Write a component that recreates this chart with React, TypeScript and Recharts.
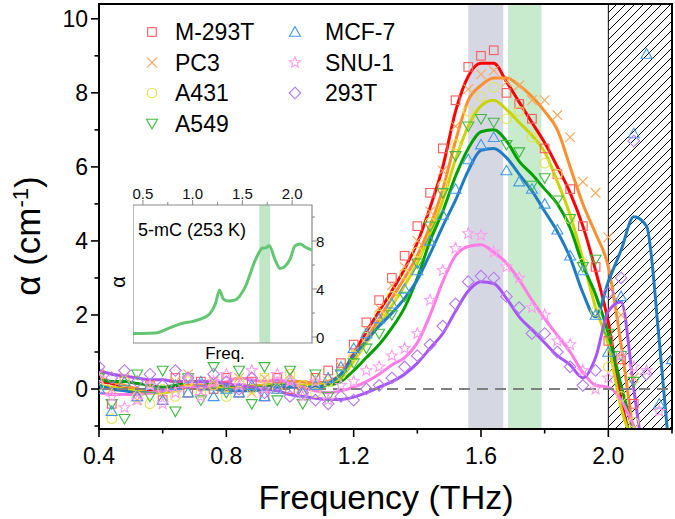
import React from 'react';
import {
  ComposedChart,
  LineChart,
  Line,
  Scatter,
  XAxis,
  YAxis,
  ReferenceArea,
  ReferenceLine,
} from 'recharts';

// frequency grid (THz) shared by all cell lines
const freq = [
  0.4, 0.44, 0.48, 0.52, 0.56, 0.6, 0.64, 0.68, 0.72, 0.76,
  0.8, 0.84, 0.88, 0.92, 0.96, 1.0, 1.04, 1.08, 1.12, 1.16,
  1.2, 1.24, 1.28, 1.32, 1.36, 1.4, 1.44, 1.48, 1.52, 1.56,
  1.6, 1.64, 1.68, 1.72, 1.76, 1.8, 1.84, 1.88, 1.92, 1.96,
  2.0, 2.04, 2.08, 2.12, 2.16, 2.2,
];

// smoothed curves
const m293tFit = [
  0.2, 0.15, 0.05, 0.0, -0.05, -0.05, 0.05, 0.1, 0.1, 0.1,
  0.05, 0.05, 0.05, 0.1, 0.1, 0.1, 0.1, 0.15, 0.2, 0.4,
  0.95, 1.55, 2.1, 2.65, 3.25, 3.95, 4.9, 6.0, 7.5, 8.45,
  8.8, 8.8, 8.3, 7.75, 7.2, 6.65, 6.0, 5.3, 4.4, 3.2,
  1.8, -0.3, -1.6,
];
const pc3Fit = [
  0.3, 0.2, 0.1, 0.0, -0.1, -0.1, 0.0, 0.1, 0.1, 0.05,
  0.05, 0.05, 0.1, 0.1, 0.15, 0.2, 0.2, 0.15, 0.2, 0.35,
  0.8, 1.35, 1.9, 2.45, 3.0, 3.6, 4.4, 5.4, 6.7, 7.8,
  8.2, 8.4, 8.4, 8.2, 7.9, 7.5, 7.0, 6.0, 5.0, 4.2,
  3.3, 1.2, -1.3,
];
const a431Fit = [
  0.1, 0.05, 0.0, -0.05, -0.1, -0.1, -0.05, 0.05, 0.05, 0.05,
  0.0, 0.0, 0.05, 0.1, 0.15, 0.1, 0.1, 0.1, 0.15, 0.3,
  0.75, 1.25, 1.75, 2.25, 2.8, 3.4, 4.2, 5.1, 6.2, 7.1,
  7.65, 7.8, 7.55, 7.2, 6.85, 6.4, 5.6, 4.7, 3.5, 2.2,
  1.2, -0.5, -1.5,
];
const a549Fit = [
  0.25, 0.2, 0.2, 0.15, 0.1, 0.05, 0.1, 0.2, 0.2, 0.15,
  0.1, 0.1, 0.05, 0.05, 0.1, 0.1, 0.05, 0.05, 0.1, 0.2,
  0.5, 0.85, 1.2, 1.65, 2.2, 3.0, 4.0, 4.8, 5.75, 6.5,
  6.95, 7.0, 6.7, 6.15, 5.8, 5.4, 5.0, 4.35, 3.35, 2.55,
  1.5, 0.1, -1.2,
];
const mcf7Fit = [
  0.1, 0.0, -0.05, -0.1, -0.1, -0.05, 0.0, 0.05, 0.0, 0.0,
  -0.05, -0.05, -0.05, 0.0, 0.05, 0.05, 0.05, 0.05, 0.15, 0.4,
  0.9, 1.3, 1.7, 2.05, 2.45, 2.95, 3.65, 4.4, 5.1, 5.9,
  6.45, 6.5, 6.25, 5.8, 5.35, 4.8, 4.25, 3.55, 2.6, 1.95,
  2.9, 3.75, 4.65, 4.4, 1.3, -2.5,
];
const snu1Fit = [
  -0.1, -0.15, -0.15, -0.15, -0.1, -0.05, 0.0, 0.05, 0.05, 0.1,
  0.2, 0.3, 0.25, 0.2, 0.25, 0.15, 0.05, -0.05, -0.1, -0.05,
  0.05, 0.2, 0.4, 0.65, 0.85, 1.25, 2.0, 2.9, 3.6, 3.85,
  3.9, 3.7, 3.4, 2.95, 2.4, 1.9, 1.45, 1.0, 0.45, 0.1,
  0.05, -0.3, -1.0, -1.8,
];
const t293Fit = [
  0.5, 0.4, 0.35, 0.3, 0.25, 0.25, 0.2, 0.2, 0.2, 0.2,
  0.15, 0.1, 0.05, 0.0, -0.05, -0.15, -0.2, -0.25, -0.28, -0.28,
  -0.22, -0.1, 0.05, 0.2, 0.4, 0.7, 1.1, 1.5, 2.1, 2.65,
  2.9, 2.85, 2.45, 1.95, 1.6, 1.25, 0.9, 0.65, 0.3, 0.85,
  2.1, 2.35, 0.0, -2.5,
];

// measured points
const m293tPts = [
  0.3, -0.4, 0.2, -0.2, 0.1, -0.3, 0.3, -0.1, 0.2, 0.0,
  0.3, -0.1, 0.2, -0.2, 0.3, 0.0, -0.1, 0.3, 0.5, 0.7,
  1.2, 1.8, 2.4, 3.0, 3.6, 4.4, 5.3, 6.5, 7.8, 8.7,
  9.0, 9.15, 8.0, 7.7, 7.3, 6.5, 5.8, 5.4, 4.4, 3.3,
  1.3, 0.8, -0.4,
];
const pc3Pts = [
  0.4, 0.0, 0.3, -0.3, 0.1, -0.2, 0.2, 0.4, -0.1, 0.2,
  0.0, 0.3, -0.1, 0.3, 0.1, 0.4, 0.0, 0.3, 0.2, 0.6,
  1.0, 1.6, 2.2, 2.8, 3.3, 4.0, 4.8, 5.9, 7.1, 8.1,
  8.5, 8.6, 8.3, 8.2, 7.8, 7.8, 7.4, 6.8, 5.6, 5.3,
  4.1, 2.0, 0.3,
];
const a431Pts = [
  0.1, -0.8, 0.2, -0.2, -0.4, 0.0, -0.2, 0.2, -0.1, 0.1,
  -0.2, 0.2, 0.0, 0.3, 0.0, 0.4, 0.1, -0.1, 0.2, 0.4,
  0.9, 1.4, 2.0, 2.5, 3.1, 3.7, 4.5, 5.5, 6.6, 7.5,
  7.9, 8.15, 7.3, 7.5, 6.8, 6.1, 5.8, 4.6, 3.4, 2.1,
  0.6, -0.2, -0.9,
];
const a549Pts = [
  0.3, -0.4, -0.8, 0.4, -0.2, 0.5, -0.6, 0.3, -0.3, 0.6,
  -0.1, 0.5, -0.4, 0.6, -0.3, 0.5, -0.4, 0.4, -0.2, 0.4,
  0.7, 1.1, 1.5, 2.0, 2.5, 3.4, 4.4, 5.3, 6.3, 7.1,
  7.3, 7.2, 6.6, 6.4, 5.5, 5.7, 5.1, 4.6, 3.3, 3.5,
  1.5, 0.9, 0.2,
];
const mcf7Pts = [
  0.0, -0.6, 0.2, -0.2, 0.1, -0.3, 0.1, -0.1, 0.2, -0.2,
  0.0, -0.1, 0.1, -0.2, 0.0, 0.2, -0.1, 0.1, 0.3, 0.6,
  1.1, 1.5, 1.9, 2.3, 2.7, 3.2, 4.0, 4.7, 5.4, 6.2,
  6.6, 6.8, 5.9, 5.6, 5.4, 5.0, 4.3, 3.6, 3.2, 2.0,
  1.0, 2.5, 6.9, 9.05, -0.4, 0.8,
];
const snu1Pts = [
  0.3, -0.2, -0.5, -0.3, 0.1, -0.4, -0.1, 0.3, -0.2, 0.2,
  0.4, 0.1, 0.5, 0.0, 0.4, 0.2, -0.2, 0.2, -0.3, 0.1,
  0.2, 0.5, 0.6, 0.9, 1.1, 1.5, 2.4, 3.2, 3.8, 4.2,
  4.15, 3.7, 3.3, 3.0, 2.2, 2.0, 1.3, 1.2, 0.5, 0.0,
  0.3, 0.9, 0.6, 0.5, -0.6,
];
const t293Pts = [
  0.6, 0.3, 0.5, 0.2, 0.4, 0.1, 0.5, 0.3, 0.1, 0.4,
  0.2, 0.0, 0.3, -0.1, 0.1, -0.2, -0.1, -0.3, -0.4, -0.2,
  -0.3, 0.0, 0.1, 0.3, 0.6, 0.9, 1.2, 1.7, 2.3, 2.9,
  3.05, 3.0, 2.5, 2.2, 1.5, 1.5, 1.0, 0.6, 0.1, 0.5,
  2.6, 3.0, 6.7, 0.4,
];

// inset: 5-mC at 253 K
const insetFreq = [
  0.4, 0.5, 0.63, 0.75, 0.9, 1.0, 1.07, 1.17, 1.23, 1.27, 1.31, 1.36, 1.43,
  1.53, 1.63, 1.7, 1.74, 1.77, 1.83, 1.88, 1.93, 1.98, 2.03, 2.08, 2.13, 2.2,
];
const insetAlpha = [
  0.3, 0.3, 0.33, 0.7, 1.14, 1.3, 1.47, 1.92, 2.8, 3.9, 3.15, 3.0, 3.1,
  4.2, 6.4, 7.4, 7.45, 7.6, 6.4, 5.7, 5.9, 6.5, 7.6, 7.75, 7.5, 7.25,
];

const mainXTicks = [0.4, 0.6, 0.8, 1.0, 1.2, 1.4, 1.6, 1.8, 2.0, 2.2];
const mainYTicks = [-1, 0, 1, 2, 3, 4, 5, 6, 7, 8, 9, 10];
const insetXTicks = [0.5, 0.75, 1.0, 1.25, 1.5, 1.75, 2.0];
const insetYTicks = [0, 2, 4, 6, 8, 10];

const FONT = 'Arial, "Liberation Sans", sans-serif';
const W = 675;
const H = 519;
const PLOT_LEFT = 99;
const PLOT_TOP = 4;
const PLOT_RIGHT_MARGIN = 3;
const X_AXIS_H = 90;
const PLOT_BOTTOM = H - X_AXIS_H;

type Pt = { f: number; v: number };
const toPoints = (xs: number[], vals: number[]): Pt[] =>
  xs
    .map((f, i) => ({ f, v: vals[i] }))
    .filter((p) => p.v !== undefined && p.v !== null);

const series = [
  { name: 'M-293T', fit: m293tFit, pts: m293tPts, line: '#ff0000', mark: '#ff5b5b', shape: 'square' },
  { name: 'PC3', fit: pc3Fit, pts: pc3Pts, line: '#ff8f2e', mark: '#ffa558', shape: 'cross' },
  { name: 'A431', fit: a431Fit, pts: a431Pts, line: '#cbd300', mark: '#e2e352', shape: 'circle' },
  { name: 'A549', fit: a549Fit, pts: a549Pts, line: '#00a000', mark: '#3fba3f', shape: 'triDown' },
  { name: 'MCF-7', fit: mcf7Fit, pts: mcf7Pts, line: '#1f7cc1', mark: '#4299ea', shape: 'triUp' },
  { name: 'SNU-1', fit: snu1Fit, pts: snu1Pts, line: '#ff7be6', mark: '#ff9cf0', shape: 'star' },
  { name: '293T', fit: t293Fit, pts: t293Pts, line: '#a855f7', mark: '#b578f5', shape: 'diamond' },
];

function marker(kind: string, cx: number, cy: number, color: string) {
  const common = { fill: 'none', stroke: color, strokeWidth: 1.1 };
  switch (kind) {
    case 'square':
      return <rect {...common} x={cx - 4.3} y={cy - 4.3} width={8.6} height={8.6} />;
    case 'cross':
      return (
        <path {...common} d={`M${cx - 4.8},${cy - 4.8}L${cx + 4.8},${cy + 4.8}M${cx - 4.8},${cy + 4.8}L${cx + 4.8},${cy - 4.8}`} />
      );
    case 'circle':
      return <circle {...common} cx={cx} cy={cy} r={4.8} />;
    case 'triDown':
      return <polygon {...common} points={`${cx - 5.5},${cy - 4.2} ${cx + 5.5},${cy - 4.2} ${cx},${cy + 5.3}`} />;
    case 'triUp':
      return <polygon {...common} points={`${cx - 5.5},${cy + 4.2} ${cx + 5.5},${cy + 4.2} ${cx},${cy - 5.3}`} />;
    case 'star': {
      const pts: string[] = [];
      for (let k = 0; k < 10; k++) {
        const a = ((-90 + k * 36) * Math.PI) / 180;
        const r = k % 2 === 0 ? 5.8 : 2.5;
        pts.push(`${cx + r * Math.cos(a)},${cy + r * Math.sin(a)}`);
      }
      return <polygon {...common} points={pts.join(' ')} />;
    }
    default:
      return <polygon {...common} points={`${cx},${cy - 5.8} ${cx + 5.8},${cy} ${cx},${cy + 5.8} ${cx - 5.8},${cy}`} />;
  }
}

const MainYTick = (props: any) => {
  const { y, payload } = props;
  const v = payload.value;
  const major = v % 2 === 0;
  return (
    <g>
      <line x1={PLOT_LEFT - (major ? 8 : 4.5)} x2={PLOT_LEFT} y1={y} y2={y} stroke="#000" strokeWidth={1.6} />
      {major && (
        <text x={PLOT_LEFT - 11} y={y} textAnchor="end" dominantBaseline="central" fontSize={23} fontFamily={FONT} fill="#000">
          {v}
        </text>
      )}
    </g>
  );
};

const MainXTick = (props: any) => {
  const { x, payload } = props;
  const v = payload.value;
  const major = Math.round(v * 10) % 4 === 0;
  return (
    <g>
      <line x1={x} x2={x} y1={PLOT_BOTTOM} y2={PLOT_BOTTOM + (major ? 8 : 4.5)} stroke="#000" strokeWidth={1.6} />
      {major && (
        <text x={x} y={PLOT_BOTTOM + 27} textAnchor="middle" dominantBaseline="central" fontSize={23} fontFamily={FONT} fill="#000">
          {v.toFixed(1)}
        </text>
      )}
    </g>
  );
};

// inset geometry (chart-local)
const IN_W = 215;
const IN_H = 176;
const IN_TOP_AXIS = 25;
const IN_RIGHT_AXIS = 36;
const IN_BOTTOM_PAD = 13;

const InsetXTick = (props: any) => {
  const { x, payload } = props;
  const v = payload.value;
  const major = Math.round(v * 100) % 50 === 0;
  return (
    <g>
      <line x1={x} x2={x} y1={IN_TOP_AXIS} y2={IN_TOP_AXIS - (major ? 5 : 3)} stroke="#888" strokeWidth={1} />
      {major && (
        <text x={x} y={IN_TOP_AXIS - 12} textAnchor="middle" dominantBaseline="central" fontSize={15} fontFamily={FONT} fill="#111">
          {v.toFixed(1)}
        </text>
      )}
    </g>
  );
};

const InsetYTick = (props: any) => {
  const { y, payload } = props;
  const v = payload.value;
  const major = v % 4 === 0;
  const ax = IN_W - IN_RIGHT_AXIS;
  return (
    <g>
      <line x1={ax} x2={ax + (major ? 5 : 3)} y1={y} y2={y} stroke="#888" strokeWidth={1} />
      {major && (
        <text x={ax + 4} y={y} textAnchor="start" dominantBaseline="central" fontSize={15} fontFamily={FONT} fill="#111">
          {v}
        </text>
      )}
    </g>
  );
};

function Inset() {
  const data = toPoints(insetFreq, insetAlpha);
  return (
    <div style={{ position: 'absolute', left: 133, top: 180 }}>
      <LineChart width={IN_W} height={IN_H} margin={{ top: 0, right: 0, bottom: IN_BOTTOM_PAD, left: 0 }}>
        <XAxis
          type="number"
          dataKey="f"
          orientation="top"
          domain={[0.4, 2.2]}
          ticks={insetXTicks}
          interval={0}
          height={IN_TOP_AXIS}
          axisLine={false}
          tickLine={false}
          tick={InsetXTick}
          allowDataOverflow
        />
        <YAxis
          type="number"
          dataKey="v"
          orientation="right"
          domain={[-0.5, 11]}
          ticks={insetYTicks}
          interval={0}
          width={IN_RIGHT_AXIS}
          axisLine={false}
          tickLine={false}
          tick={InsetYTick}
          allowDataOverflow
        />
        <ReferenceArea x1={0.4} x2={2.2} y1={-0.5} y2={11} fill="#ffffff" fillOpacity={1} stroke="none" />
        <ReferenceArea x1={1.67} x2={1.78} fill="#bfe7c6" fillOpacity={1} stroke="none" />
        <Line
          data={data}
          dataKey="v"
          type="monotone"
          stroke="#62c673"
          strokeWidth={3}
          dot={false}
          isAnimationActive={false}
        />
        <ReferenceArea x1={0.4} x2={2.2} y1={-0.5} y2={11} fill="none" stroke="#8a8a8a" strokeWidth={1.2} />
      </LineChart>
    </div>
  );
}

function Overlay() {
  return (
    <svg width={W} height={H} style={{ position: 'absolute', left: 0, top: 0, pointerEvents: 'none' }}>
      {/* axis titles */}
      <text x={386} y={509} textAnchor="middle" fontSize={34} fontFamily={FONT} fill="#000">
        Frequency (THz)
      </text>
      <text transform="translate(40,236) rotate(-90)" textAnchor="middle" fontSize={35} fontFamily={FONT} fill="#000">
        α (cm<tspan fontSize={22} baselineShift="super">-1</tspan>)
      </text>

      {/* inset labels */}
      <text x={138} y={236} fontSize={18} fontFamily={FONT} fill="#000">
        5-mC  (253 K)
      </text>
      <text x={225} y={359} textAnchor="middle" fontSize={17} fontFamily={FONT} fill="#000">
        Freq.
      </text>
      <text transform="translate(125,282) rotate(-90)" textAnchor="middle" fontSize={20} fontFamily={FONT} fill="#000">
        α
      </text>

      {/* legend */}
      {series.map((s, i) => {
        const col = i < 4 ? 0 : 1;
        const row = i < 4 ? i : i - 4;
        const mx = col === 0 ? 152 : 295;
        const tx = col === 0 ? 175 : 325;
        const cy = 32 + row * 30.5;
        return (
          <g key={s.name}>
            {marker(s.shape, mx, cy, s.mark)}
            <text x={tx} y={cy + 8} fontSize={23} fontFamily={FONT} fill="#000">
              {s.name}
            </text>
          </g>
        );
      })}
    </svg>
  );
}

export default function App() {
  return (
    <div style={{ position: 'absolute', left: 0, top: 0, width: W, height: H, background: '#fff', fontFamily: FONT }}>
      <svg width={0} height={0} style={{ position: 'absolute' }}>
        <defs>
          <pattern id="hatch" patternUnits="userSpaceOnUse" width={9} height={9}>
            <path d="M0,9 L9,0 M-2,2 L2,-2 M7,11 L11,7" stroke="#000" strokeWidth={1} />
          </pattern>
        </defs>
      </svg>

      <ComposedChart
        width={W}
        height={H}
        margin={{ top: PLOT_TOP, right: PLOT_RIGHT_MARGIN, bottom: 0, left: 0 }}
      >
        <XAxis
          type="number"
          dataKey="f"
          domain={[0.4, 2.2]}
          ticks={mainXTicks}
          interval={0}
          height={X_AXIS_H}
          axisLine={{ stroke: '#000', strokeWidth: 2 }}
          tickLine={false}
          tick={MainXTick}
          allowDataOverflow
        />
        <YAxis
          type="number"
          dataKey="v"
          domain={[-1.08, 10.4]}
          ticks={mainYTicks}
          interval={0}
          width={PLOT_LEFT}
          axisLine={{ stroke: '#000', strokeWidth: 2 }}
          tickLine={false}
          tick={MainYTick}
          allowDataOverflow
        />

        <ReferenceArea x1={1.56} x2={1.67} fill="#d5d8e3" fillOpacity={1} stroke="none" />
        <ReferenceArea x1={1.685} x2={1.79} fill="#c8eacd" fillOpacity={1} stroke="none" />
        <ReferenceArea x1={2.0} x2={2.2} fill="url(#hatch)" fillOpacity={1} stroke="#000" strokeWidth={1} />

        {series.map((s) => (
          <Scatter
            key={`pts-${s.name}`}
            name={s.name}
            data={toPoints(freq, s.pts)}
            dataKey="v"
            isAnimationActive={false}
            shape={(p: any) => marker(s.shape, p.cx, p.cy, s.mark)}
          />
        ))}

        {series.map((s) => (
          <Line
            key={`fit-${s.name}`}
            name={`${s.name} fit`}
            data={toPoints(freq, s.fit)}
            dataKey="v"
            type="monotone"
            stroke={s.line}
            strokeWidth={3}
            dot={false}
            activeDot={false}
            isAnimationActive={false}
          />
        ))}

        <ReferenceLine y={0} stroke="#808080" strokeWidth={2} strokeDasharray="11 7" />
        <ReferenceArea x1={0.4} x2={2.2} y1={-1.08} y2={10.4} fill="none" stroke="#000" strokeWidth={2} />
      </ComposedChart>

      <Inset />
      <Overlay />
    </div>
  );
}
